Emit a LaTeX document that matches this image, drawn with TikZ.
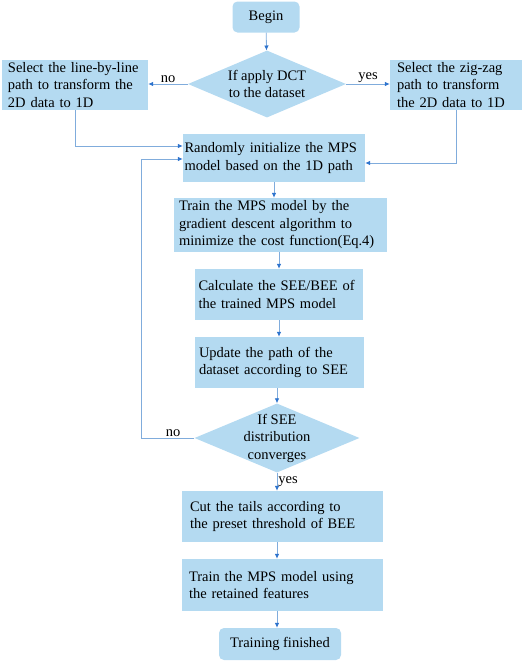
\documentclass[tikz,border=0pt]{standalone}
\usepackage{fontspec}
\setmainfont{Liberation Serif}
\usetikzlibrary{shapes.geometric,arrows.meta}
\definecolor{boxblue}{RGB}{180,218,241}
\definecolor{lineblue}{RGB}{128,172,220}
\definecolor{tipblue}{RGB}{45,115,205}
\tikzset{
  proc/.style={fill=boxblue, align=left, inner ysep=2pt, minimum height=51pt},
  term/.style={fill=boxblue, rounded corners=5pt, minimum width=67pt, minimum height=31pt},
  dec/.style={diamond, fill=boxblue, inner sep=0pt},
  arr/.style={draw=lineblue, line width=0.8pt, -{Latex[length=5pt,width=4.5pt,color=tipblue]}},
  lab/.style={inner sep=1pt}
}
\begin{document}
\begin{tikzpicture}[x=1pt,y=-1pt,font=\fontsize{14.5}{17.5}\selectfont]
\useasboundingbox (0,0) rectangle (526,664);
\node[term] (begin) at (266,17) {Begin};
\node[dec, minimum width=158pt, minimum height=67pt] (dct) at (267,84) {};
\node[align=center] (dcttxt) at (dct) {If apply DCT\\to the dataset};
\node[proc, text width=134pt, inner xsep=6pt, minimum height=50pt] (lbl) at (75,85) {Select the line-by-line\\path to transform the\\2D data to 1D};
\node[proc, text width=118pt, inner xsep=7pt, minimum height=50pt] (zz) at (456,85) {Select the zig-zag\\path to transform\\the 2D data to 1D};
\node[proc, text width=179pt, inner xsep=1.5pt, minimum height=48pt] (init) at (274,158) {Randomly~initialize~the~MPS\\model based on the 1D path};
\node[proc, text width=203pt, inner xsep=5pt, minimum height=54pt] (train) at (280.5,225) {Train the MPS model by the\\gradient descent algorithm to\\minimize~the~cost~function(Eq.4)};
\node[proc, text width=161pt, inner xsep=3.5pt] (calc) at (279,294.5) {Calculate~the~SEE/BEE~of\\the trained MPS model};
\node[proc, text width=161pt, inner xsep=4pt] (upd) at (279.5,362.5) {Update the path of the\\dataset according to SEE};
\node[dec, minimum width=165pt, minimum height=69pt] (conv) at (277,438) {};
\node[align=center] (convtxt) at (conv) {If SEE\\distribution\\converges};
\node[proc, text width=185pt, inner xsep=8pt] (cut) at (282.5,516.5) {Cut the tails according to\\the preset threshold of BEE};
\node[proc, text width=187pt, inner xsep=7pt, minimum height=52pt] (retain) at (282.5,585) {Train the MPS model using\\the retained features};
\node[term, minimum width=122pt, minimum height=32pt] (fin) at (280,644) {Training finished};

\draw[arr] (begin) -- (dct);
\draw[arr] (dct.west) -- (lbl.east |- dct.west) node[lab, midway, above] {no};
\draw[arr] (dct.east) -- (zz.west |- dct.east) node[lab, midway, above] {yes};
\draw[arr] (lbl.south) |- ([yshift=12pt]init.west);
\draw[arr] (zz.south) |- ([yshift=-5pt]init.east);
\draw[arr] (init.south) -- (init.south |- train.north);
\draw[arr] (calc.north |- train.south) -- (calc.north);
\draw[arr] (calc.south) -- (calc.south |- upd.north);
\draw[arr] (conv.north |- upd.south) -- (conv.north);
\draw[arr] (conv.south) -- (conv.south |- cut.north) node[lab, midway, right] {yes};
\draw[arr] (conv.south |- cut.south) -- (conv.south |- retain.north);
\draw[arr] (conv.south |- retain.south) -- (fin.north -| conv.south);
\draw[arr] (conv.west) -- ++(-53,0) node[lab, pos=0.4, above] {no} |- ([yshift=-1pt]init.west);
\end{tikzpicture}
\end{document}
